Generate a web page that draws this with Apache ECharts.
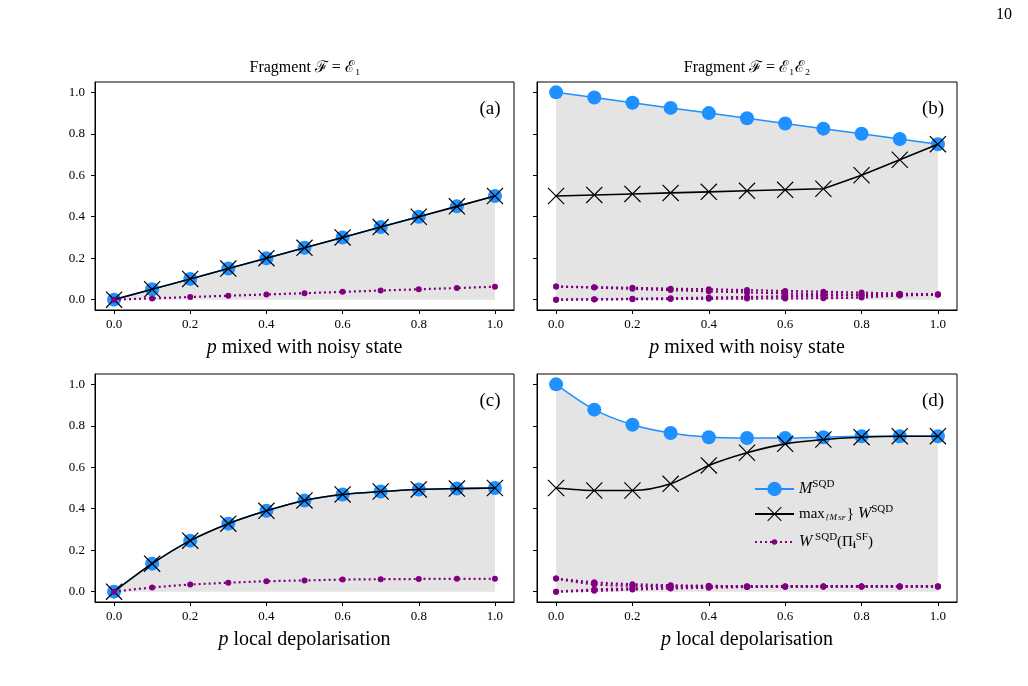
<!DOCTYPE html>
<html>
<head>
<meta charset="utf-8">
<script src="https://cdn.jsdelivr.net/npm/echarts@6/dist/echarts.min.js"></script>
<style>
html,body{margin:0;padding:0;background:#fff;}
#chart{width:1028px;height:686px;}
</style>
</head>
<body>
<div id="chart"></div>
<script>
// ---- data ----
const pVals = [0.0,0.1,0.2,0.3,0.4,0.5,0.6,0.7,0.8,0.9,1.0];
const tickVals = [0.0,0.2,0.4,0.6,0.8,1.0];

// (a) mixed with noisy state, F = E1
const aM  = [0.0,0.05,0.10,0.15,0.20,0.25,0.30,0.35,0.40,0.45,0.50];
const aW  = [0.0,0.05,0.10,0.15,0.20,0.25,0.30,0.35,0.40,0.45,0.50];
const aPi = [0.0,0.006,0.0125,0.019,0.025,0.031,0.0375,0.044,0.05,0.056,0.0625];

// (b) mixed with noisy state, F = E1E2
const bM   = [1.0,0.975,0.95,0.925,0.90,0.875,0.85,0.825,0.80,0.775,0.75];
const bW   = [0.50,0.505,0.51,0.515,0.52,0.525,0.53,0.535,0.60,0.675,0.75];
const bPi1 = [0.063,0.060,0.057,0.053,0.050,0.046,0.042,0.038,0.034,0.029,0.025];
const bPi2 = [0.063,0.058,0.052,0.046,0.040,0.035,0.030,0.026,0.024,0.024,0.025];
const bPi3 = [0.000,0.002,0.004,0.007,0.010,0.013,0.016,0.019,0.021,0.023,0.025];
const bPi4 = [0.000,0.001,0.002,0.003,0.004,0.005,0.006,0.007,0.010,0.020,0.025];

// (c) local depolarisation, F = E1
const cM  = [0.0,0.135,0.246,0.328,0.39,0.44,0.469,0.483,0.493,0.497,0.50];
const cW  = [0.0,0.135,0.246,0.328,0.39,0.44,0.469,0.483,0.493,0.497,0.50];
const cPi = [0.0,0.020,0.034,0.043,0.050,0.054,0.058,0.060,0.061,0.062,0.062];

// (d) local depolarisation, F = E1E2
const dM   = [1.0,0.878,0.805,0.765,0.745,0.741,0.741,0.745,0.75,0.75,0.75];
const dW   = [0.50,0.488,0.488,0.52,0.609,0.67,0.713,0.734,0.745,0.75,0.75];
const dPi1 = [0.063,0.045,0.036,0.031,0.028,0.026,0.025,0.025,0.025,0.025,0.025];
const dPi2 = [0.063,0.035,0.028,0.026,0.025,0.025,0.025,0.025,0.025,0.025,0.025];
const dPi3 = [0.000,0.010,0.016,0.020,0.022,0.024,0.025,0.025,0.025,0.025,0.025];
const dPi4 = [0.000,0.004,0.010,0.015,0.019,0.022,0.024,0.025,0.025,0.025,0.025];

const xLabels = ['mixed with noisy state','mixed with noisy state','local depolarisation','local depolarisation'];
const panelLabels = ['(a)','(b)','(c)','(d)'];

// ---- styling ----
const SERIF = '"Liberation Serif","DejaVu Serif",serif';
const BLUE = '#1e90ff', PURPLE = '#800080', FILL = '#e4e4e4';
const XPATH = 'path://M0,5 L5,0 L50,45 L95,0 L100,5 L55,50 L100,95 L95,100 L50,55 L5,100 L0,95 L45,50 Z';

const grids = [
  {left:95, top:82, width:419, height:228},
  {left:537, top:82, width:420, height:228},
  {left:95, top:374, width:419, height:228},
  {left:537, top:374, width:420, height:228}
].map(g => Object.assign(g, {show:true, borderColor:'#000', borderWidth:1, backgroundColor:'rgba(0,0,0,0)'}));

const xAxes = grids.map((g,i) => ({
  type:'value', gridIndex:i, min:-0.05, max:1.05,
  axisLine:{show:true, onZero:false, lineStyle:{color:'#000', width:1}},
  axisTick:{show:true, customValues:tickVals, length:4, lineStyle:{color:'#000'}},
  axisLabel:{show:true, customValues:tickVals, formatter:v=>v.toFixed(1), color:'#000', fontFamily:SERIF, fontSize:13, margin:8},
  splitLine:{show:false},
  name:'{i|p} ' + xLabels[i], nameLocation:'middle', nameGap:28,
  nameTextStyle:{color:'#000', fontFamily:SERIF, fontSize:20, rich:{i:{fontStyle:'italic', fontFamily:SERIF, fontSize:20, color:'#000'}}}
}));

const yAxes = grids.map((g,i) => ({
  type:'value', gridIndex:i, min:-0.05, max:1.05,
  axisLine:{show:true, onZero:false, lineStyle:{color:'#000', width:1}},
  axisTick:{show:true, customValues:tickVals, length:4, lineStyle:{color:'#000'}},
  axisLabel:{show:(i%2===0), customValues:tickVals, formatter:v=>v.toFixed(1), color:'#000', fontFamily:SERIF, fontSize:13, margin:10},
  splitLine:{show:false}
}));

function pairs(arr){ return pVals.map((p,k)=>[p, arr[k]]); }
const SM = 0.3;

function mSeries(i, arr, smooth){
  return {type:'line', name:'M', xAxisIndex:i, yAxisIndex:i, data:pairs(arr), smooth:smooth?SM:false,
    symbol:'circle', symbolSize:14, showAllSymbol:true,
    itemStyle:{color:BLUE}, lineStyle:{color:BLUE, width:1.5},
    areaStyle:{color:FILL, opacity:1, origin:0}, z:2};
}
function wSeries(i, arr, smooth){
  return {type:'line', name:'maxW', xAxisIndex:i, yAxisIndex:i, data:pairs(arr), smooth:smooth?SM:false,
    symbol:XPATH, symbolSize:17, showAllSymbol:true,
    itemStyle:{color:'#000'}, lineStyle:{color:'#000', width:1.6}, z:3};
}
function piSeries(i, arr, smooth){
  return {type:'line', name:'WPi', xAxisIndex:i, yAxisIndex:i, data:pairs(arr), smooth:smooth?SM:false,
    symbol:'circle', symbolSize:6, showAllSymbol:true,
    itemStyle:{color:PURPLE}, lineStyle:{color:PURPLE, width:2.2, type:[2,3]}, z:4};
}

const series = [
  mSeries(0,aM,false), wSeries(0,aW,false), piSeries(0,aPi,false),
  mSeries(1,bM,false), wSeries(1,bW,false), piSeries(1,bPi1,false), piSeries(1,bPi2,false), piSeries(1,bPi3,false), piSeries(1,bPi4,false),
  mSeries(2,cM,true), wSeries(2,cW,true), piSeries(2,cPi,true),
  mSeries(3,dM,true), wSeries(3,dW,true), piSeries(3,dPi1,true), piSeries(3,dPi2,true), piSeries(3,dPi3,true), piSeries(3,dPi4,true)
];

const legendText = {
  'M': '{it|M}{sup|SQD}',
  'maxW': '{rm|max}{sub|{M}{subi|SF}}{it| W}{sup|SQD}',
  'WPi': '{it|W}{sup| SQD}{rm|(Π}{subb|i}{sup|SF}{rm|)}'
};
const legendRich = {
  it:{fontStyle:'italic', fontFamily:SERIF, fontSize:16, color:'#000'},
  rm:{fontFamily:SERIF, fontSize:15, color:'#000'},
  sup:{fontFamily:SERIF, fontSize:11, color:'#000', padding:[0,0,9,0]},
  sub:{fontFamily:SERIF, fontSize:9, fontStyle:'italic', color:'#000', padding:[7,1,0,1]},
  subi:{fontFamily:SERIF, fontSize:7, fontStyle:'italic', color:'#000', padding:[9,1,0,0]},
  subb:{fontFamily:SERIF, fontSize:10, fontWeight:'bold', color:'#000', padding:[7,0,0,0]}
};
function mkLegend(name, top, h){
  return {data:[name], orient:'vertical', left:749, top:top, itemWidth:39, itemHeight:h, selectedMode:false,
    formatter:n=>legendText[n], textStyle:{color:'#000', fontFamily:SERIF, fontSize:15, rich:legendRich}};
}

const panelGraphics = grids.map((g,i)=>({
  type:'text', x:g.left + g.width - 24, y:g.top + 27,
  style:{text:panelLabels[i], font:'19px ' + SERIF, fill:'#000', align:'center', verticalAlign:'middle'}
}));

const option = {
  animation:false,
  backgroundColor:'#fff',
  grid:grids, xAxis:xAxes, yAxis:yAxes, series:series,
  legend:[mkLegend('M',474,18), mkLegend('maxW',499,18), mkLegend('WPi',527,7)],
  graphic:[
    {type:'text', x:305, y:68, style:{text:'Fragment ℱ = ℰ₁', font:'16px ' + SERIF, fill:'#000', align:'center', verticalAlign:'middle'}},
    {type:'text', x:747, y:68, style:{text:'Fragment ℱ = ℰ₁ℰ₂', font:'16px ' + SERIF, fill:'#000', align:'center', verticalAlign:'middle'}},
    {type:'text', x:1012, y:15, style:{text:'10', font:'16px ' + SERIF, fill:'#000', align:'right', verticalAlign:'middle'}}
  ].concat(panelGraphics)
};

const chart = echarts.init(document.getElementById('chart'));
chart.setOption(option);
</script>
</body>
</html>
